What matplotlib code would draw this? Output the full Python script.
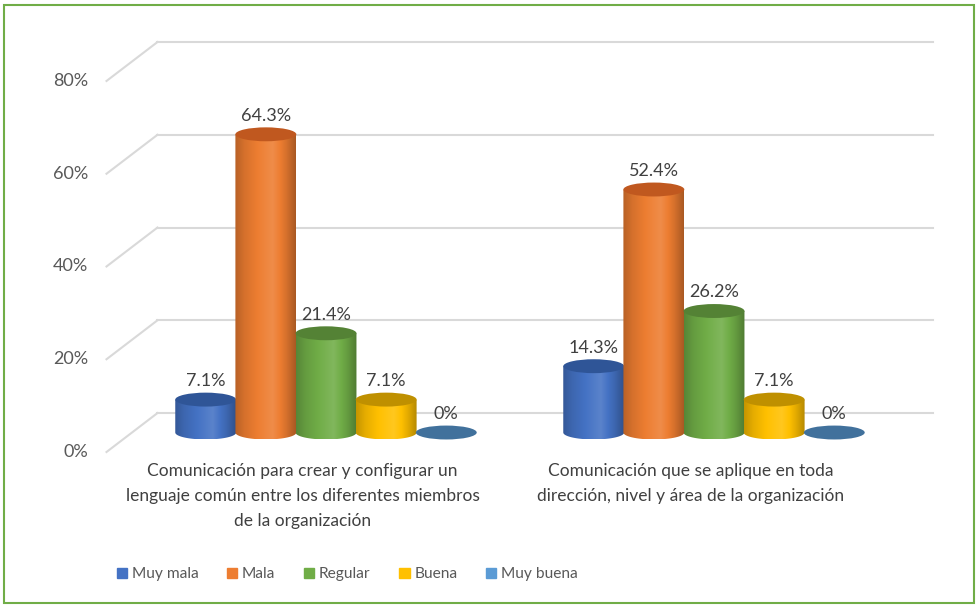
import numpy as np
import matplotlib
matplotlib.use("Agg")
import matplotlib.pyplot as plt
from matplotlib.patches import Ellipse, Rectangle, Patch, PathPatch
from matplotlib.path import Path
from matplotlib.colors import to_rgb

plt.rcParams['font.family'] = ['Lato', 'DejaVu Sans']

categories = ["Comunicación para crear y configurar un\nlenguaje común entre los diferentes miembros\nde la organización",
              "Comunicación que se aplique en toda\ndirección, nivel y área de la organización"]
series = ["Muy mala", "Mala", "Regular", "Buena", "Muy buena"]
values = [
    [7.1, 14.3],
    [64.3, 52.4],
    [21.4, 26.2],
    [7.1, 7.1],
    [0.0, 0.0],
]
yticks = [0, 20, 40, 60, 80]

colors = ["#4472C4", "#ED7D31", "#70AD47", "#FFC000", "#5B9BD5"]
tops = ["#2F5597", "#C0581F", "#548235", "#BF9000", "#41719C"]

# pixel scale: 4.6375 px per percent, axes spans -10..80
fig = plt.figure(figsize=(9.78, 6.07), dpi=100)
ax = fig.add_axes([132 / 978, (607 - 478.9) / 607, 776 / 978, 417.4 / 607])
ax.axis('off')

DX = 0.0657   # depth offset, x data units
DY = 4.2      # depth offset, percent units
grid_c = "#D9D9D9"

# back wall gridlines + side diagonals
for v in yticks:
    ax.plot([-0.5 + DX, 1.5 + DX], [v + DY, v + DY], color=grid_c, lw=1.5, clip_on=False, zorder=0)
    ax.plot([-0.5 - DX, -0.5 + DX], [v - DY, v + DY], color=grid_c, lw=1.5, clip_on=False, zorder=0)
    ax.text(-0.5 - DX - 0.047, v - DY, f"{v}%", ha='right', va='center',
            fontsize=13, color="#595959")

bw = 0.157
step = 0.155
eh = 3.0  # ellipse height in percent units

def shade(c, f):
    r = np.array(to_rgb(c))
    if f < 1:
        return r * f
    return r + (1 - r) * (f - 1)

xs = np.linspace(0, 1, 60)
prof = np.interp(xs, [0, 0.15, 0.62, 0.85, 1], [0.78, 0.9, 1.12, 0.9, 0.72])

for i, s in enumerate(series):
    grad = np.array([[shade(colors[i], f) for f in prof]])
    for j in range(len(categories)):
        v = values[i][j]
        xc = j + (i - 2) * step
        x0, x1 = xc - bw / 2, xc + bw / 2
        z = 2 + i
        if v > 0:
            t = np.linspace(np.pi, 2 * np.pi, 40)
            arc = np.column_stack([xc + bw / 2 * np.cos(t), eh / 2 * np.sin(t)])
            verts = np.vstack([arc, [[x1, v], [x0, v], arc[0]]])
            codes = [Path.MOVETO] + [Path.LINETO] * (len(verts) - 2) + [Path.CLOSEPOLY]
            body = PathPatch(Path(verts, codes), fc='none', ec='none', zorder=z)
            ax.add_patch(body)
            im = ax.imshow(grad, extent=[x0, x1, -eh / 2, v], aspect='auto',
                           interpolation='bilinear', zorder=z)
            im.set_clip_path(body)
        ax.add_patch(Ellipse((xc, v), bw, eh, fc=tops[i], ec='none', zorder=z + 0.1))
        ax.text(xc, v + eh / 2 + 0.8, f"{v:g}%", ha='center', va='bottom',
                fontsize=13, color="#404040", zorder=10)

for j, c in enumerate(categories):
    ax.text(j - DX + 0.005, -6.6, c, ha='center', va='top', fontsize=12.5,
            color="#404040", linespacing=1.68)

ax.set_xlim(-0.5, 1.5)
ax.set_ylim(-10, 80)

handles = [Patch(color=c) for c in colors]
fig.legend(handles, series, loc='center left', bbox_to_anchor=(103 / 978, 0.054),
           ncol=5, frameon=False, handlelength=0.65, handleheight=0.65,
           handletextpad=0.3, columnspacing=1.85, fontsize=11.2,
           labelcolor="#595959")

fig.patches.append(Rectangle((4 / 978, 4 / 607), 970 / 978, 598 / 607,
                             transform=fig.transFigure, fill=False,
                             ec="#70AD47", lw=1.5))

fig.savefig("out.png", dpi=100)
